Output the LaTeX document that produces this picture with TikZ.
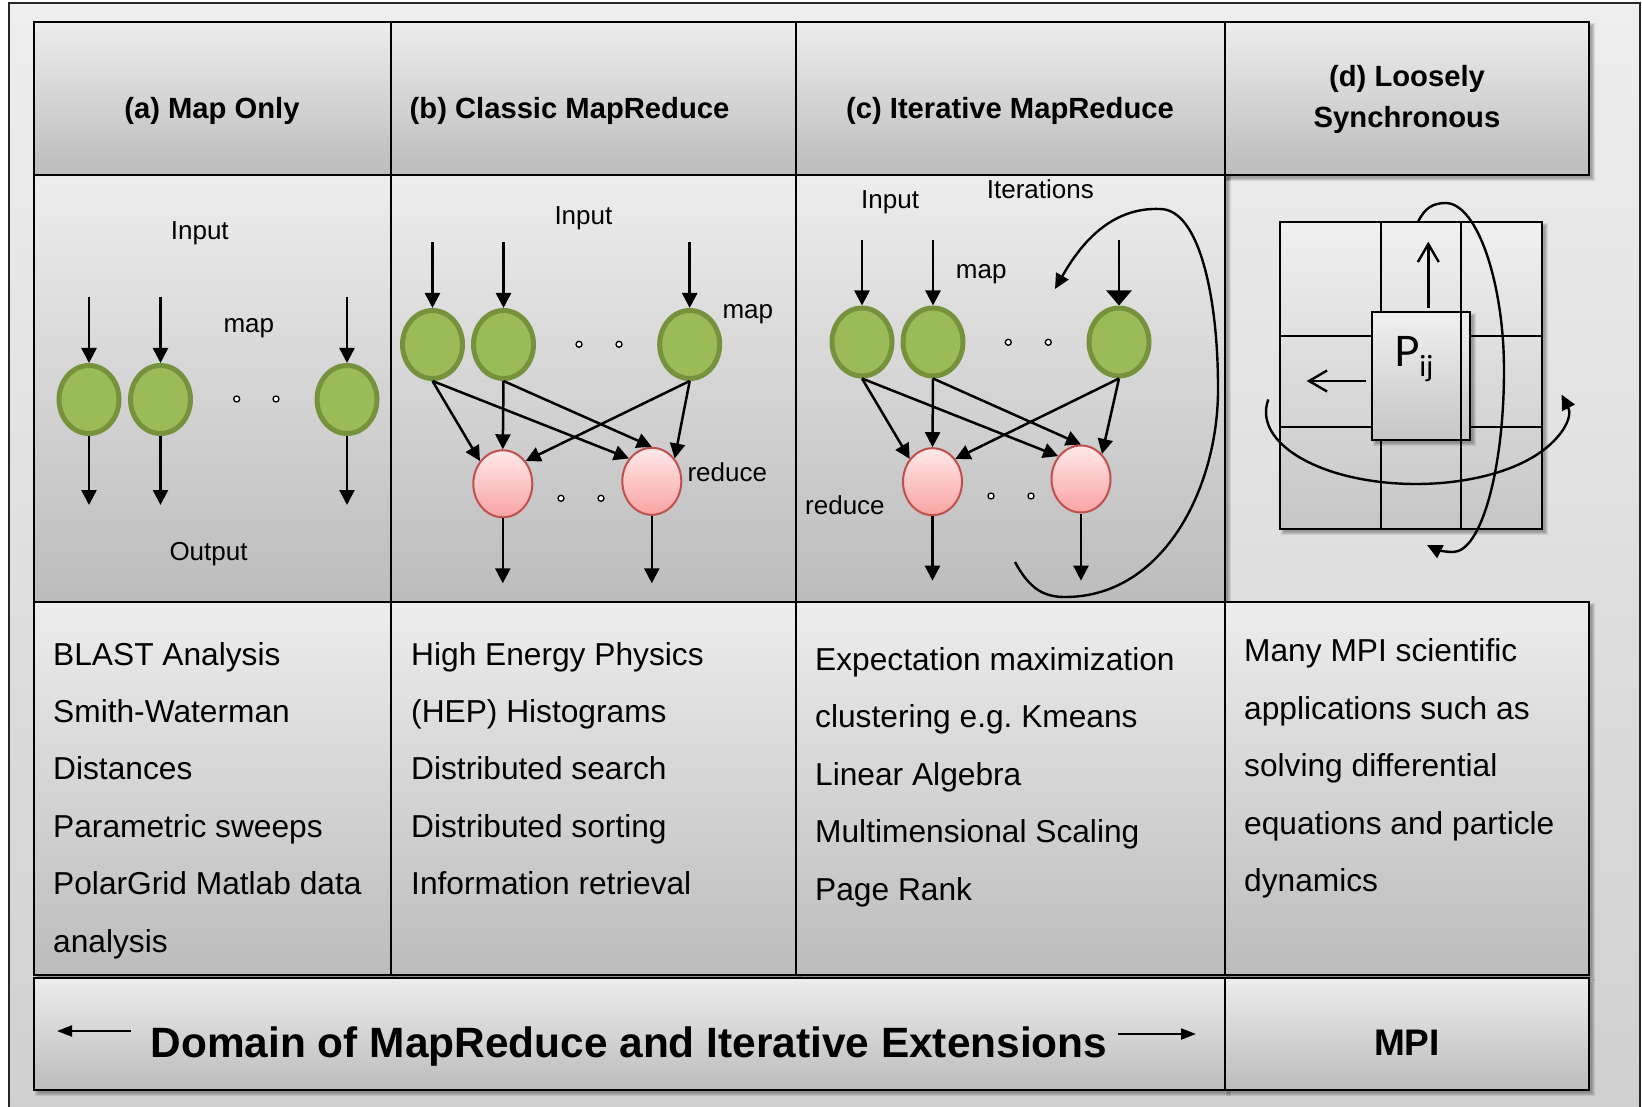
\documentclass[tikz,border=0pt]{standalone}
\usepackage{fontspec}
\setmainfont{Liberation Sans}
\newfontfamily\procfont{Lato}
\usetikzlibrary{shapes.geometric,arrows.meta}

\definecolor{bgtop}{HTML}{EEEEEE}
\definecolor{bgbot}{HTML}{D0D0D0}
\definecolor{celltop}{HTML}{EDEDED}
\definecolor{cellbot}{HTML}{BCBCBC}
\definecolor{gridtop}{HTML}{F0F0F0}
\definecolor{gridbot}{HTML}{C6C6C6}
\definecolor{mapfill}{HTML}{9BBB59}
\definecolor{mapline}{HTML}{76923C}
\definecolor{redtop}{HTML}{FFE9E9}
\definecolor{redbot}{HTML}{F9A3A3}
\definecolor{redline}{HTML}{C0504D}

% soft drop shadow below/right of a box given by its corners
\newcommand\softshadow[4]{%
  \foreach \k in {0,1,2,3}{%
    \fill[black,opacity=0.085] ({#1+1+\k},{#2+1+\k}) rectangle ({#3+6-\k},{#4+6-\k});}}
\newcommand\cellbox[4]{\draw[cell] (#1,#2) rectangle (#3,#4);}

\tikzset{
  cell/.style={draw=black, line width=2pt, top color=celltop, bottom color=cellbot},
  mapnode/.style={ellipse, draw=mapline, line width=5pt, fill=mapfill,
    minimum width=60pt, minimum height=68pt, inner sep=0pt},
  rednode/.style={ellipse, draw=redline, line width=2pt, top color=redtop, bottom color=redbot,
    minimum width=59pt, minimum height=67pt, inner sep=0pt},
  flow/.style={line width=2.5pt, -{Triangle[length=15pt,width=15pt]}},
  wideflow/.style={line width=2.5pt, -{Triangle[length=15pt,width=25pt]}},
  loopflow/.style={line width=2.4pt, -{Triangle[length=15pt,width=14pt]}},
  sideflow/.style={line width=2.2pt, -{Triangle[length=15pt,width=11pt]}},
  barb/.style={line width=2.4pt, -{Straight Barb[length=18pt,width=21pt]}},
  dotnode/.style={circle, draw=black, line width=1.3pt, fill=white, minimum size=6pt, inner sep=0pt},
  lbl/.style={font=\fontsize{26}{26}\selectfont, anchor=base west, inner sep=0pt},
  headtxt/.style={font=\bfseries\fontsize{29.2}{29.2}\selectfont, anchor=base, inner sep=0pt},
  bodytxt/.style={font=\fontsize{31.7}{31.7}\selectfont, anchor=base west, inner sep=0pt},
}

\begin{document}
\begin{tikzpicture}[x=1pt,y=-1pt]
\useasboundingbox (0,0) rectangle (1642,1107);
\fill[white] (0,0) rectangle (1642,1107);
\draw[line width=1.6pt, draw=black!85, top color=bgtop, bottom color=bgbot] (9,3) rectangle (1640,1118);

% ---------- table cells ----------
\softshadow{34}{22}{391}{175}
\softshadow{391}{22}{796}{175}
\softshadow{796}{22}{1225}{175}
\softshadow{1225}{22}{1589}{175}
\softshadow{34}{175}{391}{602}
\softshadow{391}{175}{796}{602}
\softshadow{796}{175}{1225}{602}
\softshadow{34}{602}{391}{975}
\softshadow{391}{602}{796}{975}
\softshadow{796}{602}{1225}{975}
\softshadow{1225}{602}{1589}{975}
\softshadow{34}{978}{1225}{1090}
\softshadow{1225}{978}{1589}{1090}

\cellbox{34}{22}{391}{175}
\cellbox{391}{22}{796}{175}
\cellbox{796}{22}{1225}{175}
\cellbox{1225}{22}{1589}{175}
\cellbox{34}{175}{391}{602}
\cellbox{391}{175}{796}{602}
\cellbox{796}{175}{1225}{602}
\cellbox{34}{602}{391}{975}
\cellbox{391}{602}{796}{975}
\cellbox{796}{602}{1225}{975}
\cellbox{1225}{602}{1589}{975}
\cellbox{34}{978}{1225}{1090}
\cellbox{1225}{978}{1589}{1090}

% ---------- headers ----------
\node[headtxt] (ha) at (212,118.3) {(a) Map Only};
\node[headtxt, anchor=base west] (hb) at (409.5,118.3) {(b) Classic MapReduce};
\node[headtxt] (hc) at (1010,118.3) {(c) Iterative MapReduce};
\node[headtxt] (hd1) at (1407,87) {(d) Loosely};
\node[headtxt] (hd2) at (1407,127.5) {Synchronous};

% ---------- (a) map only ----------
\node[lbl] (ainput) at (170.7,239.3) {Input};
\node[lbl] (amap) at (223.3,332.7) {map};
\node[lbl] (aoutput) at (169.3,560) {Output};
\node[mapnode] (am1) at (89,399.5) {};
\node[mapnode] (am2) at (160.5,399.5) {};
\node[mapnode] (am3) at (347,399.5) {};
\node[dotnode] (ad1) at (236.7,399) {};
\node[dotnode] (ad2) at (276,399) {};
\coordinate (ai1) at (89,297);
\coordinate (ai2) at (160.5,297);
\coordinate (ai3) at (347,297);
\coordinate (ao1) at (89,505);
\coordinate (ao2) at (160.5,505);
\coordinate (ao3) at (347,505);
\foreach \i in {1,2,3}{
  \draw[flow] (ai\i) -- (am\i);
  \draw[flow] (am\i) -- (ao\i);
}

% ---------- (b) classic mapreduce ----------
\node[lbl] (binput) at (554.3,225) {Input};
\node[lbl] (bmap) at (722.3,319) {map};
\node[lbl] (breduce) at (687.3,481.7) {reduce};
\node[mapnode] (bm1) at (432.5,344.5) {};
\node[mapnode] (bm2) at (503.5,344.5) {};
\node[mapnode] (bm3) at (689.7,344.5) {};
\node[dotnode] (bd1) at (579,344.3) {};
\node[dotnode] (bd2) at (619,344.3) {};
\node[rednode] (br1) at (502.8,483.8) {};
\node[rednode] (br2) at (651.8,481.3) {};
\node[dotnode] (bd3) at (561,498.3) {};
\node[dotnode] (bd4) at (601,498.3) {};
\coordinate (bi1) at (432.5,242.3);
\coordinate (bi2) at (503.5,242.3);
\coordinate (bi3) at (689.7,242.3);
\coordinate (bo1) at (502.8,583.3);
\coordinate (bo2) at (651.8,583.3);
\foreach \i in {1,2,3}{\draw[flow] (bi\i) -- (bm\i);}
\draw[flow] (bm1.south) -- (br1.135);
\draw[flow] (bm1.south) -- (br2.135);
\draw[flow] (bm2.south) -- (br1.north);
\draw[flow] (bm2.south) -- (br2.north);
\draw[flow] (bm3.south) -- (br1.45);
\draw[flow] (bm3.south) -- (br2.45);
\draw[flow] (br1) -- (bo1);
\draw[flow] (br2) -- (bo2);

% ---------- (c) iterative mapreduce ----------
\node[lbl] (cinput) at (861,208.3) {Input};
\node[lbl] (citer) at (986.7,198.3) {Iterations};
\node[lbl] (cmap) at (955.7,279) {map};
\node[lbl] (creduce) at (805,514.3) {reduce};
\node[mapnode] (cm1) at (862,342) {};
\node[mapnode] (cm2) at (933,342) {};
\node[mapnode] (cm3) at (1119,342) {};
\node[dotnode] (cd1) at (1008.3,342.3) {};
\node[dotnode] (cd2) at (1048.3,342.3) {};
\node[rednode] (cr1) at (932.5,481.7) {};
\node[rednode] (cr2) at (1081,479) {};
\node[dotnode] (cd3) at (991,496) {};
\node[dotnode] (cd4) at (1031,496) {};
\coordinate (ci1) at (862,240);
\coordinate (ci2) at (933,240);
\coordinate (ci3) at (1119,240);
\coordinate (co1) at (932.5,580.7);
\coordinate (co2) at (1081,580.7);
\draw[flow] (ci1) -- (cm1);
\draw[flow] (ci2) -- (cm2);
\draw[wideflow] (ci3) -- (cm3);
\draw[flow] (cm1.south) -- (cr1.135);
\draw[flow] (cm1.south) -- (cr2.135);
\draw[flow] (cm2.south) -- (cr1.north);
\draw[flow] (cm2.south) -- (cr2.north);
\draw[flow] (cm3.south) -- (cr1.45);
\draw[flow] (cm3.south) -- (cr2.50);
\draw[flow] (cr1) -- (co1);
\draw[flow] (cr2) -- (co2);
% feedback loop
\coordinate (loopstart) at (1015,562);
\coordinate (loopend) at (1055,289);
\draw[loopflow] (loopstart) .. controls (1030,590) and (1045,597) .. (1065,597)
  .. controls (1165,597) and (1219,485) .. (1218,387)
  .. controls (1218,300) and (1200,209) .. (1160,209)
  .. controls (1110,207) and (1080,245) .. (loopend);

% ---------- (d) loosely synchronous ----------
\softshadow{1280}{222}{1542}{529}
\draw[line width=2pt, top color=gridtop, bottom color=gridbot] (1280,222) rectangle (1542,529);
\draw[line width=2pt] (1380.7,222) -- (1380.7,529);
\draw[line width=2pt] (1460.7,222) -- (1460.7,529);
\draw[line width=2pt] (1280,335.7) -- (1542,335.7);
\draw[line width=2pt] (1280,426.7) -- (1542,426.7);
\softshadow{1372.3}{312}{1470}{440}
\node[draw=black, line width=2pt, top color=gridtop, bottom color=gridbot,
  minimum width=97.7pt, minimum height=128pt, inner sep=0pt] (pbox) at (1421.2,376) {};
\draw[line width=2pt] (1460.7,312) -- (1460.7,440);
\node[font=\procfont\fontsize{42}{42}\selectfont, anchor=base west, inner sep=0pt] (plabel)
  at (1394,366.7) {P\raisebox{-10pt}{\fontsize{29}{29}\selectfont ij}};
\coordinate (dup) at (1428.3,241.7);
\coordinate (dleft) at (1306.7,381);
\draw[barb] (dup |- pbox.north) ++(0,-3) -- (dup);
\draw[barb, shorten <=5pt] (pbox.west |- dleft) -- (dleft);
% row exchange ring
\draw[loopflow] (1268.3,399.5) arc[start angle=190, end angle=-14, x radius=150, y radius=72];
% column exchange ring
\coordinate (ringstart) at (1418,222);
\coordinate (ringend) at (1427,545);
\draw[loopflow] (ringstart) .. controls (1425,207) and (1434,203) .. (1446,203)
  .. controls (1478,204) and (1504,285) .. (1504,370)
  .. controls (1504,470) and (1481,552) .. (1453,552)
  .. controls (1443,552) and (1435,549) .. (ringend);

% ---------- example applications ----------
\node[bodytxt] (a1) at (53,665) {BLAST Analysis};
\node[bodytxt] (a2) at (53,722.4) {Smith-Waterman};
\node[bodytxt] (a3) at (53,779.8) {Distances};
\node[bodytxt] (a4) at (53,837.2) {Parametric sweeps};
\node[bodytxt] (a5) at (53,894.6) {PolarGrid Matlab data};
\node[bodytxt] (a6) at (53,952) {analysis};

\node[bodytxt] (b1) at (411,665) {High Energy Physics};
\node[bodytxt] (b2) at (411,722.4) {(HEP) Histograms};
\node[bodytxt] (b3) at (411,779.8) {Distributed search};
\node[bodytxt] (b4) at (411,837.2) {Distributed sorting};
\node[bodytxt] (b5) at (411,894.6) {Information retrieval};

\node[bodytxt] (c1) at (815,670) {Expectation maximization};
\node[bodytxt] (c2) at (815,727.5) {clustering e.g.\ Kmeans};
\node[bodytxt] (c3) at (815,785) {Linear Algebra};
\node[bodytxt] (c4) at (815,842.5) {Multimensional Scaling};
\node[bodytxt] (c5) at (815,900) {Page Rank};

\node[bodytxt] (d1) at (1244,661.7) {Many MPI scientific};
\node[bodytxt] (d2) at (1244,719.2) {applications such as};
\node[bodytxt] (d3) at (1244,776.7) {solving differential};
\node[bodytxt] (d4) at (1244,834.2) {equations and particle};
\node[bodytxt] (d5) at (1244,891.7) {dynamics};

% ---------- bottom row ----------
\node[font=\bfseries\fontsize{42.4}{42.4}\selectfont, anchor=base, inner sep=0pt] (domain)
  at (629,1057.5) {Domain of MapReduce and Iterative Extensions};
\node[font=\bfseries\fontsize{37}{37}\selectfont, anchor=base, inner sep=0pt] (mpi)
  at (1407,1055) {MPI};
\coordinate (dl1) at (131,1031);
\coordinate (dl2) at (57,1031);
\coordinate (dr1) at (1118,1034);
\coordinate (dr2) at (1196,1034);
\draw[sideflow] (dl1) -- (dl2);
\draw[sideflow] (dr1) -- (dr2);
\end{tikzpicture}
\end{document}
